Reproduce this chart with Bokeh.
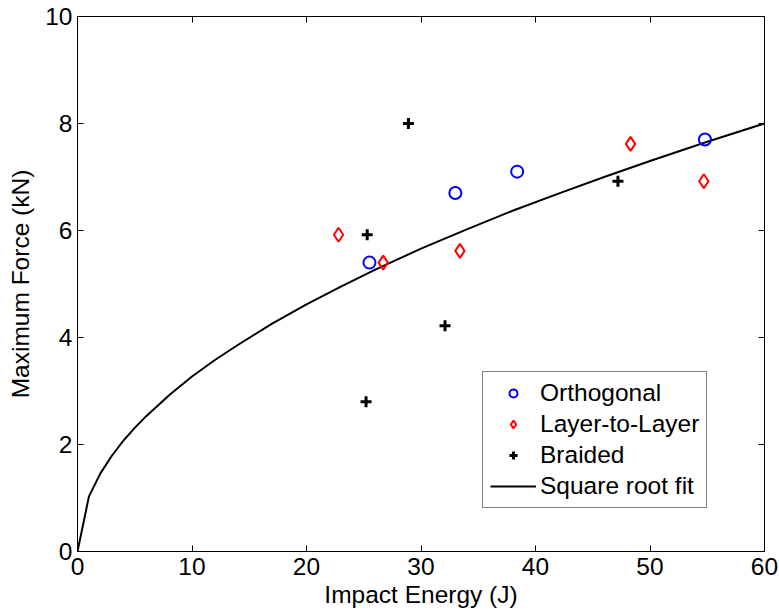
from bokeh.plotting import figure
from bokeh.models import Range1d, FixedTicker, LinearAxis, Legend, LegendItem
from bokeh.embed import file_html
from bokeh.resources import INLINE

# Data
orth_x = [25.5, 33.0, 38.4, 54.8]
orth_y = [5.4, 6.7, 7.1, 7.7]

ltl_x = [22.8, 26.7, 33.4, 48.3, 54.7]
ltl_y = [5.92, 5.4, 5.62, 7.62, 6.92]

braid_x = [25.3, 28.9, 32.1, 25.2, 47.2]
braid_y = [5.92, 8.0, 4.22, 2.8, 6.92]

fit_x = [0, 1, 2, 3, 4, 5, 6, 8, 10, 12, 14, 17, 20, 23, 26, 30, 34, 38, 42, 46, 50, 55, 60]
fit_y = [0.0, 1.03, 1.46, 1.79, 2.07, 2.31, 2.53, 2.92, 3.27, 3.58, 3.86, 4.26, 4.62,
         4.95, 5.27, 5.66, 6.02, 6.37, 6.69, 7.00, 7.30, 7.66, 8.00]

x_ticks = [0, 10, 20, 30, 40, 50, 60]
y_ticks = [0, 2, 4, 6, 8, 10]

FONT = "Liberation Sans"
FS = "24.5px"

p = figure(width=779, height=610, output_backend="svg", toolbar_location=None,
           x_range=Range1d(0, 60), y_range=Range1d(0, 10),
           min_border_left=77, min_border_right=15, min_border_top=16, min_border_bottom=59)

p.xgrid.visible = False
p.ygrid.visible = False
p.outline_line_color = "black"
p.outline_line_width = 1
p.background_fill_color = "white"
p.border_fill_color = "white"

def style_axis(ax, ticks, show_labels=True):
    ax.ticker = FixedTicker(ticks=ticks)
    ax.major_tick_in = 6
    ax.major_tick_out = 0
    ax.minor_tick_line_color = None
    ax.axis_line_color = "black"
    ax.major_tick_line_color = "black"
    ax.major_label_text_font = FONT
    ax.major_label_text_color = "black"
    if show_labels:
        ax.major_label_text_font_size = FS
        ax.major_label_standoff = 5
    else:
        ax.major_label_text_font_size = "0px"
        ax.major_label_standoff = 0
    ax.axis_label_text_font = FONT
    ax.axis_label_text_font_size = FS
    ax.axis_label_text_font_style = "normal"
    ax.axis_label_text_color = "black"

style_axis(p.xaxis[0], x_ticks)
style_axis(p.yaxis[0], y_ticks)
p.xaxis[0].axis_label = "Impact Energy (J)"
p.yaxis[0].axis_label = "Maximum Force (kN)"
p.xaxis[0].major_label_standoff = 6
p.xaxis[0].axis_label_standoff = 3
p.yaxis[0].axis_label_standoff = 8

top = LinearAxis()
style_axis(top, x_ticks, show_labels=False)
right = LinearAxis()
style_axis(right, y_ticks, show_labels=False)
p.add_layout(top, "above")
p.add_layout(right, "right")

r_fit = p.line(fit_x, fit_y, line_color="black", line_width=2)
r_orth = p.scatter(orth_x, orth_y, marker="circle", size=12, fill_color=None,
                   line_color="blue", line_width=2)
r_ltl = p.scatter(ltl_x, ltl_y, marker="diamond", size=14, fill_color=None,
                  line_color="red", line_width=2)
r_braid = p.scatter(braid_x, braid_y, marker="cross", size=11,
                    line_color="black", line_width=3)

legend = Legend(items=[
    LegendItem(label="Orthogonal", renderers=[r_orth]),
    LegendItem(label="Layer-to-Layer", renderers=[r_ltl]),
    LegendItem(label="Braided", renderers=[r_braid]),
    LegendItem(label="Square root fit", renderers=[r_fit]),
], location=(405, 43))
legend.label_text_font = FONT
legend.label_text_font_size = FS
legend.label_text_color = "black"
legend.glyph_width = 46
legend.glyph_height = 20
legend.label_standoff = 4
legend.padding = 7
legend.spacing = 3
legend.margin = 0
legend.border_line_color = "black"
legend.border_line_width = 1
legend.background_fill_color = "white"
legend.background_fill_alpha = 1
p.add_layout(legend, "center")

open("out.html", "w").write(file_html(p, INLINE))
